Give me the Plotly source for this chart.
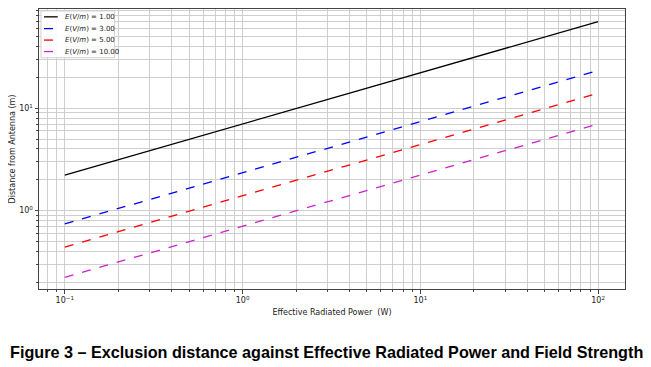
import plotly.graph_objects as go

power_w = [0.1, 1.0, 10.0, 100.0]
dist_e1 = [2.22, 7.02, 22.2, 70.2]
dist_e3 = [0.74, 2.34, 7.40, 23.4]
dist_e5 = [0.44, 1.40, 4.44, 14.0]
dist_e10 = [0.222, 0.702, 2.22, 7.02]

x_tickvals = [0.1, 1, 10, 100]
x_ticktext = ["10<sup>\u22121</sup>", "10<sup>0</sup>", "10<sup>1</sup>", "10<sup>2</sup>"]
y_tickvals = [1, 10]
y_ticktext = ["10<sup>0</sup>", "10<sup>1</sup>"]

labels = ["1.00", "3.00", "5.00", "10.00"]
series = [
    (dist_e1, "black", "solid"),
    (dist_e3, "blue", "dash"),
    (dist_e5, "red", "dash"),
    (dist_e10, "#cc22cc", "dash"),
]

fig = go.Figure()
for lab, (ys, color, dash) in zip(labels, series):
    fig.add_trace(go.Scatter(x=power_w, y=ys, mode="lines",
                             name="E(V/m) = " + lab, showlegend=False,
                             line=dict(color=color, dash=dash, width=1.3)))

grid = "#cfcfcf"
tfont = dict(family="DejaVu Sans", size=8, color="#222")
axis_common = dict(
    type="log",
    showgrid=True, gridcolor=grid, gridwidth=1,
    ticks="outside", ticklen=3.5, tickcolor="#444", tickwidth=0.8,
    showline=True, linecolor="#444", linewidth=1, mirror=True,
    zeroline=False, tickfont=tfont,
    minor=dict(dtick="D1", showgrid=True, gridcolor=grid, gridwidth=1,
               ticks="outside", ticklen=2, tickcolor="#444"),
)

fig.update_xaxes(range=[-1.145, 2.151], tickmode="array",
                 tickvals=x_tickvals, ticktext=x_ticktext,
                 title=dict(text="Effective Radiated Power  (W)", font=tfont, standoff=5),
                 **axis_common)
fig.update_yaxes(range=[-0.767, 1.97], tickmode="array",
                 tickvals=y_tickvals, ticktext=y_ticktext,
                 title=dict(text="Distance from Antenna (m)", font=tfont, standoff=6),
                 **axis_common)

# legend (manual, compact like the reference)
fig.add_shape(type="rect", xref="paper", yref="paper",
              x0=0.0034, x1=0.129, y0=0.826, y1=0.993,
              line=dict(color="#d0d0d0", width=1), fillcolor="rgba(255,255,255,0.9)",
              layer="above")
ys_leg = [0.972, 0.930, 0.889, 0.848]
for lab, (ys, color, dash), yl in zip(labels, series, ys_leg):
    fig.add_shape(type="line", xref="paper", yref="paper",
                  x0=0.0085, x1=0.032, y0=yl, y1=yl,
                  line=dict(color=color, dash="solid" if dash == "solid" else "dash", width=1.3),
                  layer="above")
    fig.add_annotation(text="<i>E</i>(<i>V</i>/<i>m</i>) = " + lab,
                       xref="paper", yref="paper", x=0.041, y=yl,
                       xanchor="left", yanchor="middle", showarrow=False,
                       font=dict(family="DejaVu Sans", size=7, color="#222"))

fig.add_annotation(text="<b>Figure 3 \u2013 Exclusion distance against Effective Radiated Power and Field Strength</b>",
                   xref="paper", yref="paper", x=0.49, y=-0.224, xanchor="center", yanchor="middle",
                   showarrow=False, font=dict(family="Liberation Sans", size=16.2, color="black"))

fig.update_layout(
    width=643, height=359,
    margin=dict(l=28, r=26, t=0, b=78),
    paper_bgcolor="white", plot_bgcolor="white",
    showlegend=False,
)

fig.write_html("out.html")
